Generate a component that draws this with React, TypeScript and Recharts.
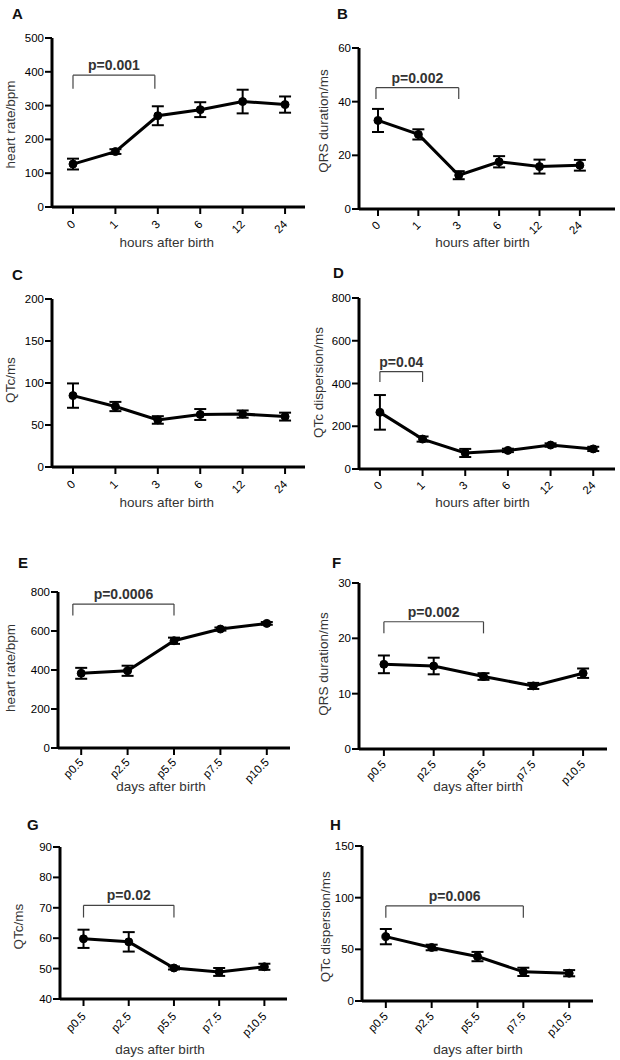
import React from 'react';
import { LineChart, Line, XAxis, YAxis, ErrorBar, ReferenceLine } from 'recharts';

// ---------- DATA ----------
const hourLabels = ['0', '1', '3', '6', '12', '24'];
const dayLabels = ['p0.5', 'p2.5', 'p5.5', 'p7.5', 'p10.5'];

const aMean = [127, 164, 270, 288, 312, 303];
const aErr = [16, 7, 28, 22, 35, 24];
const bMean = [33, 27.8, 12.6, 17.6, 15.8, 16.3];
const bErr = [4.3, 1.9, 1.5, 2.1, 2.6, 2.0];
const cMean = [85, 72, 56, 62.5, 63, 60];
const cErr = [14.5, 5.5, 4.5, 6.5, 4.3, 4.7];
const dMean = [265, 140, 75, 87, 112, 94];
const dErr = [81, 12, 19, 8, 8, 10];
const eMean = [383, 396, 550, 610, 639];
const eErr = [28, 26, 16, 8, 7];
const fMean = [15.3, 15.0, 13.1, 11.4, 13.7];
const fErr = [1.6, 1.5, 0.6, 0.55, 0.85];
const gMean = [59.8, 58.8, 50.2, 48.9, 50.6];
const gErr = [3, 3.2, 0.5, 1.3, 1.0];
const hMean = [62.3, 51.8, 43, 28.2, 26.9];
const hErr = [7.4, 2.7, 4.5, 4, 3];

const aTicks = [0, 100, 200, 300, 400, 500];
const bTicks = [0, 20, 40, 60];
const cTicks = [0, 50, 100, 150, 200];
const dTicks = [0, 200, 400, 600, 800];
const eTicks = [0, 200, 400, 600, 800];
const fTicks = [0, 10, 20, 30];
const gTicks = [40, 50, 60, 70, 80, 90];
const hTicks = [0, 50, 100, 150];

// significance brackets: from index, to index, top value, leg-bottom value, text
const pTexts = ['p=0.001', 'p=0.002', 'p=0.04', 'p=0.0006', 'p=0.002', 'p=0.02', 'p=0.006'];
const bracketFrom = [0, -0.05, 0, -0.18, 0, 0, 0];
const bracketTo = [1.93, 2, 1, 2, 2, 2, 3];
const bracketTop = [390, 45.2, 456, 738, 23, 70.8, 92];
const bracketBottom = [350, 41, 407, 680, 20.9, 66.8, 80.6];

const panelLetters = ['A', 'B', 'C', 'D', 'E', 'F', 'G', 'H'];
const yTitles = ['heart rate/bpm', 'QRS duration/ms', 'QTc/ms', 'QTc dispersion/ms', 'heart rate/bpm', 'QRS duration/ms', 'QTc/ms', 'QTc dispersion/ms'];
const xTitles = ['hours after birth', 'hours after birth', 'hours after birth', 'hours after birth', 'days after birth', 'days after birth', 'days after birth', 'days after birth'];

// ---------- LAYOUT ----------
const FONT = '"Liberation Sans", Arial, Helvetica, sans-serif';
const YW = 40;
const XH = 40;

type Panel = {
  cell: [number, number, number, number];
  box: [number, number, number, number]; // xL, xR, yT, yB (page coords)
  labels: string[];
  mean: number[];
  err: number[];
  yDomain: [number, number];
  yTicks: number[];
  xDomain: [number, number];
  bracket: number; // index or -1
  tdx: number;
  tdy: number;
};

const panels: Panel[] = [
  { cell: [0, 0, 310, 260], box: [52, 305, 38, 207], labels: hourLabels, mean: aMean, err: aErr, yDomain: [0, 500], yTicks: aTicks, xDomain: [-0.495, 5.47], bracket: 0, tdx: 3, tdy: 9 },
  { cell: [310, 0, 310, 260], box: [359, 615, 48, 209], labels: hourLabels, mean: bMean, err: bErr, yDomain: [0, 60], yTicks: bTicks, xDomain: [-0.47, 5.87], bracket: 1, tdx: 3, tdy: 8 },
  { cell: [0, 260, 310, 260], box: [52, 305, 299, 467], labels: hourLabels, mean: cMean, err: cErr, yDomain: [0, 200], yTicks: cTicks, xDomain: [-0.495, 5.47], bracket: -1, tdx: 3, tdy: 9 },
  { cell: [310, 260, 310, 260], box: [359, 615, 298, 469], labels: hourLabels, mean: dMean, err: dErr, yDomain: [0, 800], yTicks: dTicks, xDomain: [-0.49, 5.51], bracket: 2, tdx: 3, tdy: 8 },
  { cell: [0, 520, 310, 280], box: [58, 290, 592, 748], labels: dayLabels, mean: eMean, err: eErr, yDomain: [0, 800], yTicks: eTicks, xDomain: [-0.5, 4.5], bracket: 3, tdx: 3, tdy: 6 },
  { cell: [310, 520, 310, 280], box: [359, 607, 583, 749], labels: dayLabels, mean: fMean, err: fErr, yDomain: [0, 30], yTicks: fTicks, xDomain: [-0.5, 4.48], bracket: 4, tdx: 3, tdy: 7 },
  { cell: [0, 800, 310, 260], box: [60, 287, 847, 999], labels: dayLabels, mean: gMean, err: gErr, yDomain: [40, 90], yTicks: gTicks, xDomain: [-0.52, 4.5], bracket: 5, tdx: 3, tdy: 9 },
  { cell: [310, 800, 310, 260], box: [362, 593, 846, 1001], labels: dayLabels, mean: hMean, err: hErr, yDomain: [0, 150], yTicks: hTicks, xDomain: [-0.52, 4.52], bracket: 6, tdx: 3, tdy: 7 },
];

const letterPos: [number, number][] = [[12, 19], [337, 19], [12, 280], [333, 278], [18, 568], [332, 568], [27, 830], [330, 830]];
const yTitlePos: [number, number][] = [[10.5, 124.5], [323, 121], [10, 380], [318, 382.5], [10, 668], [323.5, 664], [18.7, 926.7], [325.5, 926.7]];
const xTitlePos: [number, number][] = [[166.7, 242], [482.5, 242], [166.7, 502], [482.5, 502], [161, 786], [478, 786], [160, 1049], [478, 1049]];

const RotTick = (props: any) => {
  const { x, y, payload, labels, tdx, tdy } = props;
  const px = x + tdx;
  const py = y + tdy;
  return (
    <text x={px} y={py} transform={`rotate(-45 ${px} ${py})`} textAnchor="end" fontSize={11.5} fill="#000" fontFamily={FONT}>
      {labels[payload.value]}
    </text>
  );
};

const PanelChart = ({ p }: { p: Panel }) => {
  const [cx, cy, cw, ch] = p.cell;
  const [xL, xR, yT, yB] = p.box;
  const data = p.labels.map((l, i) => ({ i, label: l, mean: p.mean[i], err: p.err[i] }));
  const idx = p.labels.map((_, i) => i);
  const b = p.bracket;
  return (
    <div style={{ position: 'absolute', left: cx, top: cy, width: cw, height: ch }}>
      <LineChart
        width={cw}
        height={ch}
        data={data}
        margin={{ top: yT - cy, right: cx + cw - xR, bottom: cy + ch - yB - XH, left: xL - cx - YW }}
      >
        <XAxis
          type="number"
          dataKey="i"
          domain={p.xDomain}
          ticks={idx}
          interval={0}
          height={XH}
          allowDataOverflow
          axisLine={{ stroke: '#000', strokeWidth: 3 }}
          tickLine={{ stroke: '#000', strokeWidth: 2 }}
          tickSize={7}
          tick={(tp: any) => <RotTick {...tp} labels={p.labels} tdx={p.tdx} tdy={p.tdy} />}
        />
        <YAxis
          type="number"
          domain={p.yDomain}
          ticks={p.yTicks}
          interval={0}
          width={YW}
          allowDataOverflow
          axisLine={{ stroke: '#000', strokeWidth: 3 }}
          tickLine={{ stroke: '#000', strokeWidth: 2 }}
          tickSize={7}
          tickMargin={1}
          tick={{ fill: '#000', fontSize: 11.5, fontFamily: FONT }}
        />
        {b >= 0 && (
          <ReferenceLine
            segment={[{ x: bracketFrom[b], y: bracketTop[b] }, { x: bracketTo[b], y: bracketTop[b] }]}
            stroke="#444"
            strokeWidth={1.2}
            ifOverflow="visible"
            label={{ value: pTexts[b], position: 'top', offset: 5, fill: '#333', fontSize: 14, fontWeight: 'bold', fontFamily: FONT }}
          />
        )}
        {b >= 0 && (
          <ReferenceLine
            segment={[{ x: bracketFrom[b], y: bracketTop[b] }, { x: bracketFrom[b], y: bracketBottom[b] }]}
            stroke="#444"
            strokeWidth={1.2}
            ifOverflow="visible"
          />
        )}
        {b >= 0 && (
          <ReferenceLine
            segment={[{ x: bracketTo[b], y: bracketTop[b] }, { x: bracketTo[b], y: bracketBottom[b] }]}
            stroke="#444"
            strokeWidth={1.2}
            ifOverflow="visible"
          />
        )}
        <Line
          type="linear"
          dataKey="mean"
          stroke="#000"
          strokeWidth={3}
          dot={{ r: 4, fill: '#000', stroke: '#000', strokeWidth: 1 }}
          activeDot={false}
          isAnimationActive={false}
        >
          <ErrorBar dataKey="err" width={6} strokeWidth={2} stroke="#000" direction="y" isAnimationActive={false} />
        </Line>
      </LineChart>
    </div>
  );
};

export default function App() {
  return (
    <div style={{ position: 'absolute', left: 0, top: 0, width: 620, height: 1060, background: '#fff', fontFamily: FONT }}>
      {panels.map((p, k) => (
        <PanelChart key={k} p={p} />
      ))}
      <svg width={620} height={1060} style={{ position: 'absolute', left: 0, top: 0, pointerEvents: 'none' }}>
        {panelLetters.map((t, k) => (
          <text key={'l' + k} x={letterPos[k][0]} y={letterPos[k][1]} fontSize={15} fontWeight="bold" fill="#111" fontFamily={FONT}>
            {t}
          </text>
        ))}
        {yTitles.map((t, k) => (
          <text
            key={'y' + k}
            transform={`translate(${yTitlePos[k][0]},${yTitlePos[k][1]}) rotate(-90)`}
            textAnchor="middle"
            dominantBaseline="central"
            fontSize={13.5}
            fill="#333"
            fontFamily={FONT}
          >
            {t}
          </text>
        ))}
        {xTitles.map((t, k) => (
          <text
            key={'x' + k}
            x={xTitlePos[k][0]}
            y={xTitlePos[k][1]}
            textAnchor="middle"
            dominantBaseline="central"
            fontSize={13.5}
            fill="#333"
            fontFamily={FONT}
          >
            {t}
          </text>
        ))}
      </svg>
    </div>
  );
}
